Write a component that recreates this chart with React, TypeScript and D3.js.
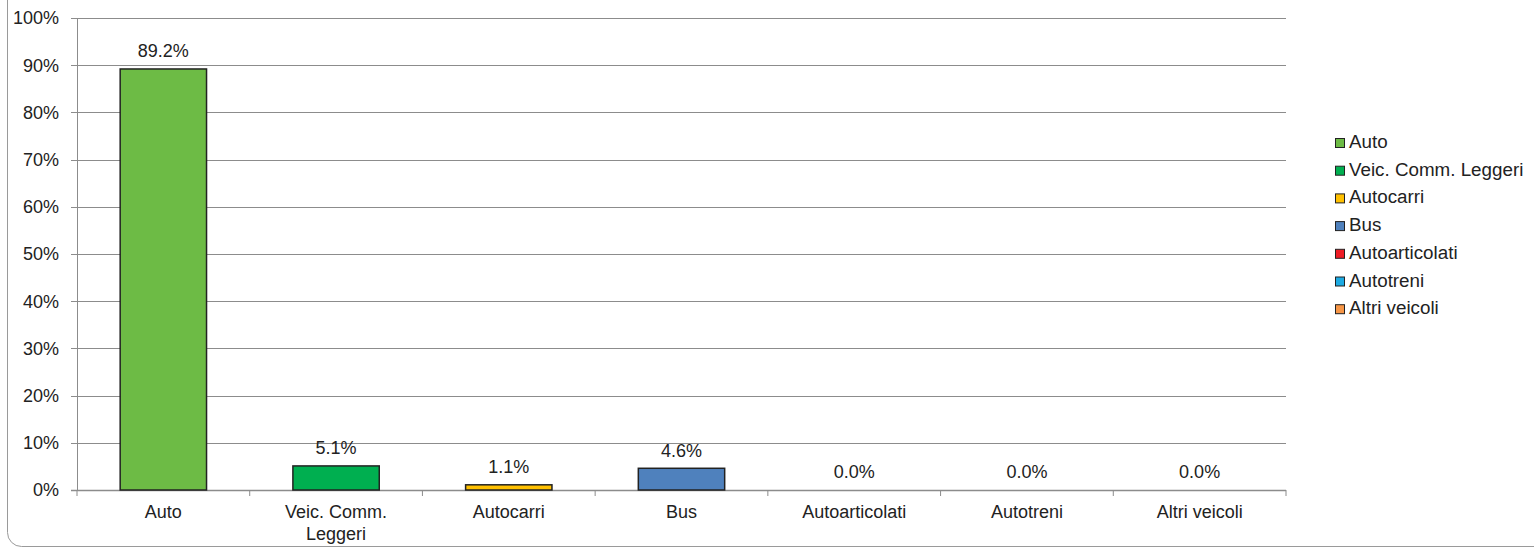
import React from "react";
import * as d3 from "d3";

const categories = ["Auto", "Veic. Comm. Leggeri", "Autocarri", "Bus", "Autoarticolati", "Autotreni", "Altri veicoli"];
const axisLabels = [["Auto"], ["Veic. Comm.", "Leggeri"], ["Autocarri"], ["Bus"], ["Autoarticolati"], ["Autotreni"], ["Altri veicoli"]];
const values = [89.2, 5.1, 1.1, 4.6, 0.0, 0.0, 0.0];
const colors = ["#6DBB45", "#00AF50", "#FFC000", "#4F81BD", "#EE1C25", "#1DAAE2", "#F79646"];
const yTicks = [0, 10, 20, 30, 40, 50, 60, 70, 80, 90, 100];

const W = 1534, H = 549;
const left = 77, right = 1286, top = 18, bottom = 490;
const FONT = "'Liberation Sans', Arial, sans-serif";
const FS = 18;

export default function App() {
  const x = d3.scaleBand<string>().domain(categories).range([left, right]).paddingInner(0.5).paddingOuter(0.25);
  const y = d3.scaleLinear().domain([0, 100]).range([bottom, top]);
  const step = (right - left) / categories.length;

  return (
    <svg width={W} height={H} style={{ position: "absolute", left: 0, top: 0, background: "#fff" }} fontFamily={FONT}>
      <rect x={7.5} y={-20} width={W + 40} height={H - 2 + 20 - 0.5} rx={14} fill="none" stroke="#9a9a9a" strokeWidth={1} />
      {yTicks.map((t) => (
        <g key={t}>
          <line x1={left - 6} x2={right} y1={Math.round(y(t)) + 0.5} y2={Math.round(y(t)) + 0.5} stroke="#8c8c8c" strokeWidth={t === 0 ? 1.6 : 1} />
          <text x={left - 18} y={y(t) + 6.3} textAnchor="end" fontSize={FS} fill="#222">{t}%</text>
        </g>
      ))}
      <line x1={left + 0.5} x2={left + 0.5} y1={top} y2={bottom} stroke="#8c8c8c" strokeWidth={1} />
      {d3.range(categories.length + 1).map((i) => (
        <line key={i} x1={left + i * step} x2={left + i * step} y1={bottom} y2={bottom + 6} stroke="#8c8c8c" strokeWidth={1} />
      ))}
      {categories.map((c, i) => {
        const bx = x(c)!;
        const bw = x.bandwidth();
        const yv = y(values[i]);
        return (
          <g key={c}>
            {values[i] > 0 && (
              <rect x={bx} y={yv} width={bw} height={bottom - yv} fill={colors[i]} stroke="#222" strokeWidth={1.5} />
            )}
            <text x={bx + bw / 2} y={yv - 11.7} textAnchor="middle" fontSize={FS} fill="#222">{values[i].toFixed(1)}%</text>
            {axisLabels[i].map((l, j) => (
              <text key={j} x={bx + bw / 2} y={518 + j * 21.5} textAnchor="middle" fontSize={FS} fill="#222">{l}</text>
            ))}
          </g>
        );
      })}
      {categories.map((c, i) => {
        const by = 148 + i * 27.7;
        return (
          <g key={"lg" + c}>
            <rect x={1335.5} y={by - 9.5} width={9} height={9} fill={colors[i]} stroke="#222" strokeWidth={1} />
            <text x={1349} y={by} fontSize={18.8} fill="#222">{c}</text>
          </g>
        );
      })}
    </svg>
  );
}
